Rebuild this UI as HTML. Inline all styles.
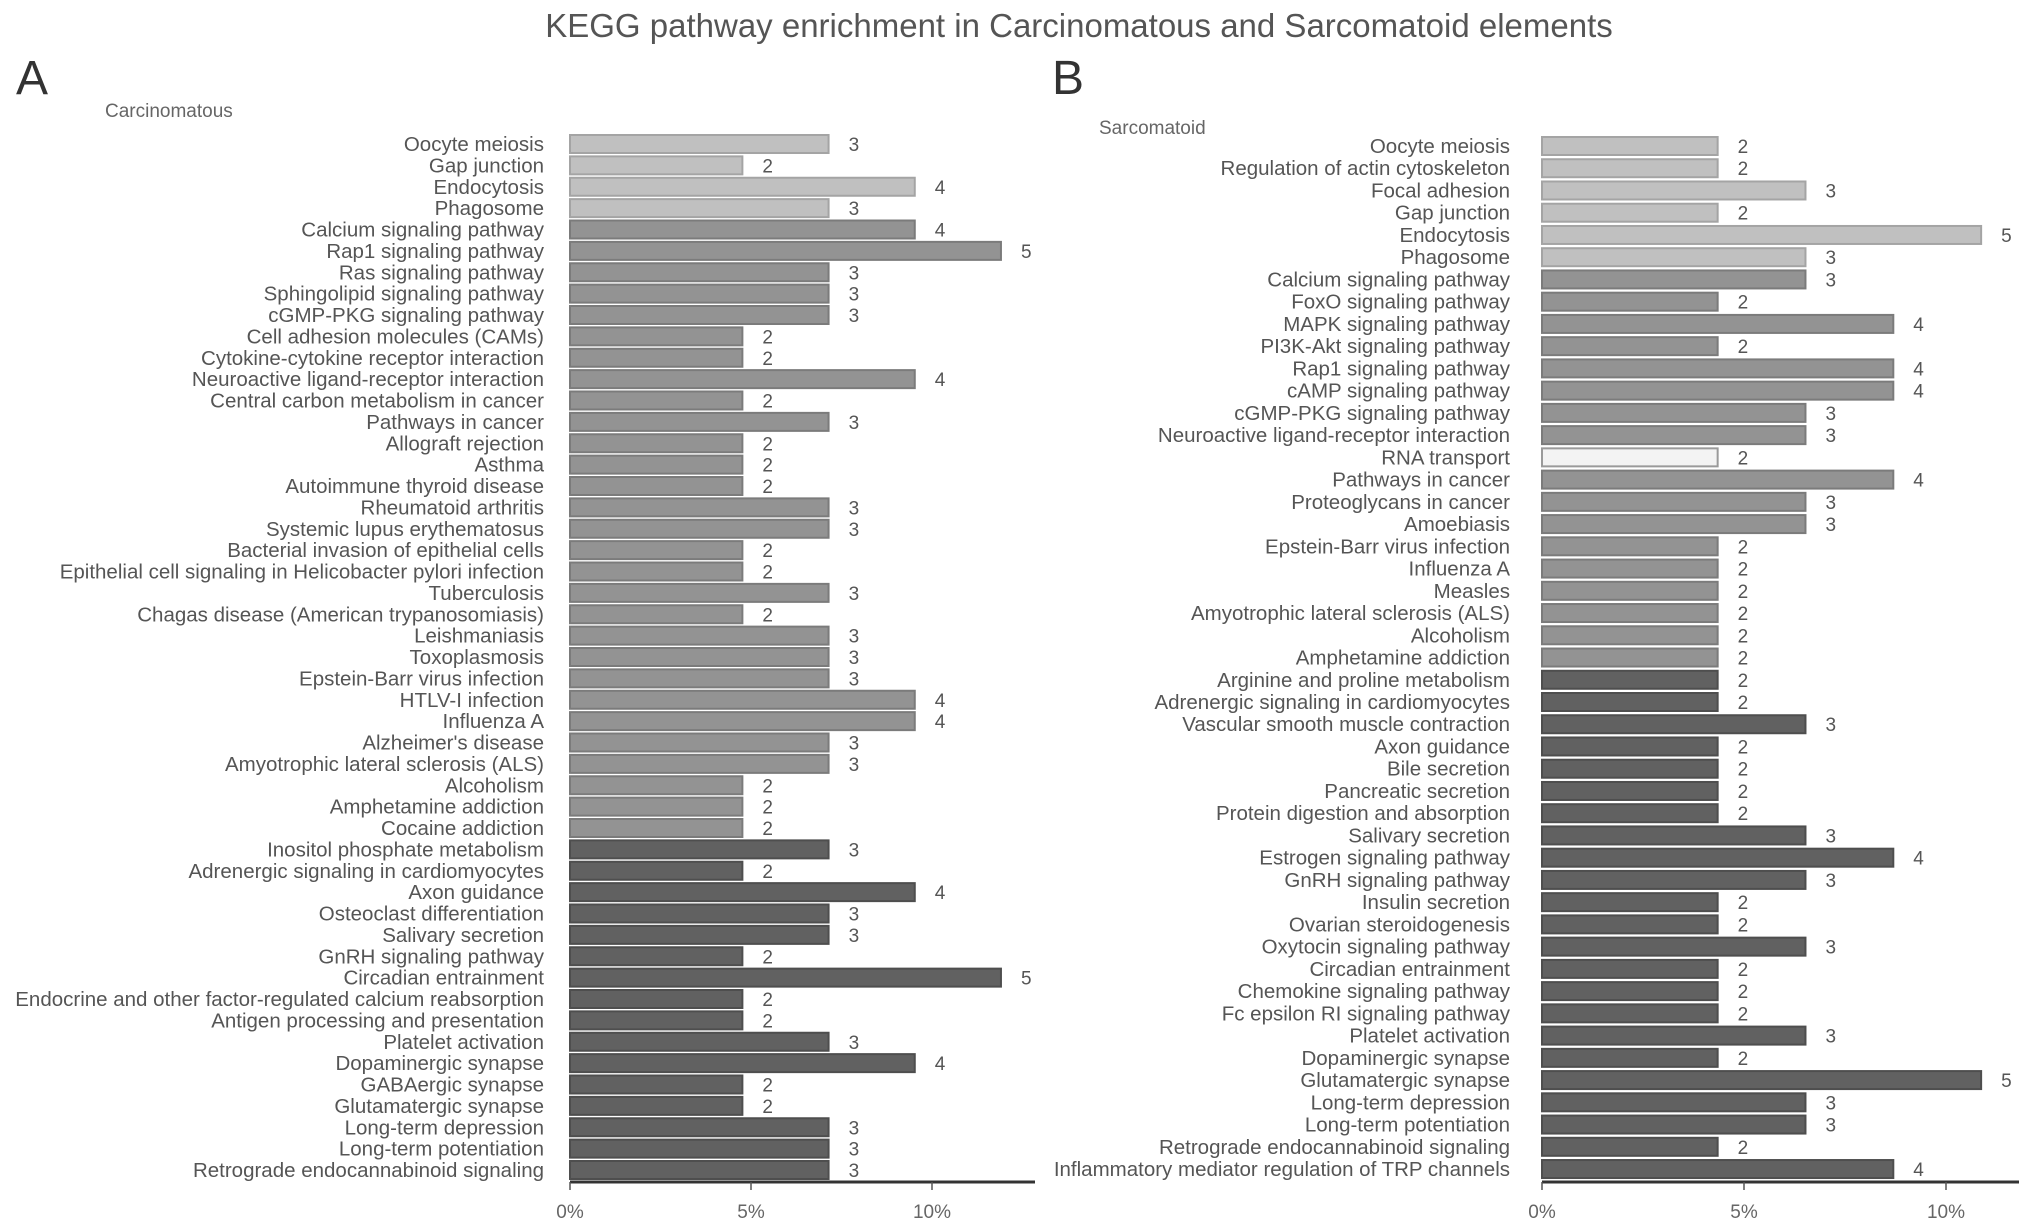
<!DOCTYPE html>
<html><head><meta charset="utf-8"><style>
html,body{margin:0;padding:0;background:#fff}
svg{display:block;font-family:"Liberation Sans",Arial,sans-serif}
</style></head><body>
<svg id="chart" width="2032" height="1229" viewBox="0 0 2032 1229">
<text x="1079" y="37" text-anchor="middle" font-size="33" fill="#555">KEGG pathway enrichment in Carcinomatous and Sarcomatoid elements</text>
<text x="16" y="94" font-size="48" fill="#333">A</text>
<text x="1052" y="94" font-size="48" fill="#333">B</text>
<text x="105" y="117" font-size="19" fill="#666">Carcinomatous</text>
<text x="1099" y="134" font-size="19" fill="#666">Sarcomatoid</text>
<g id="pa"></g>
<g id="pb"></g>
</svg>
<script>
const catsA = ["Oocyte meiosis","Gap junction","Endocytosis","Phagosome","Calcium signaling pathway","Rap1 signaling pathway","Ras signaling pathway","Sphingolipid signaling pathway","cGMP-PKG signaling pathway","Cell adhesion molecules (CAMs)","Cytokine-cytokine receptor interaction","Neuroactive ligand-receptor interaction","Central carbon metabolism in cancer","Pathways in cancer","Allograft rejection","Asthma","Autoimmune thyroid disease","Rheumatoid arthritis","Systemic lupus erythematosus","Bacterial invasion of epithelial cells","Epithelial cell signaling in Helicobacter pylori infection","Tuberculosis","Chagas disease (American trypanosomiasis)","Leishmaniasis","Toxoplasmosis","Epstein-Barr virus infection","HTLV-I infection","Influenza A","Alzheimer's disease","Amyotrophic lateral sclerosis (ALS)","Alcoholism","Amphetamine addiction","Cocaine addiction","Inositol phosphate metabolism","Adrenergic signaling in cardiomyocytes","Axon guidance","Osteoclast differentiation","Salivary secretion","GnRH signaling pathway","Circadian entrainment","Endocrine and other factor-regulated calcium reabsorption","Antigen processing and presentation","Platelet activation","Dopaminergic synapse","GABAergic synapse","Glutamatergic synapse","Long-term depression","Long-term potentiation","Retrograde endocannabinoid signaling"];
const countsA = [3,2,4,3,4,5,3,3,3,2,2,4,2,3,2,2,2,3,3,2,2,3,2,3,3,3,4,4,3,3,2,2,2,3,2,4,3,3,2,5,2,2,3,4,2,2,3,3,3];
const groupsA = [0,0,0,0,1,1,1,1,1,1,1,1,1,1,1,1,1,1,1,1,1,1,1,1,1,1,1,1,1,1,1,1,1,2,2,2,2,2,2,2,2,2,2,2,2,2,2,2,2];
const totalA = 42;
const catsB = ["Oocyte meiosis","Regulation of actin cytoskeleton","Focal adhesion","Gap junction","Endocytosis","Phagosome","Calcium signaling pathway","FoxO signaling pathway","MAPK signaling pathway","PI3K-Akt signaling pathway","Rap1 signaling pathway","cAMP signaling pathway","cGMP-PKG signaling pathway","Neuroactive ligand-receptor interaction","RNA transport","Pathways in cancer","Proteoglycans in cancer","Amoebiasis","Epstein-Barr virus infection","Influenza A","Measles","Amyotrophic lateral sclerosis (ALS)","Alcoholism","Amphetamine addiction","Arginine and proline metabolism","Adrenergic signaling in cardiomyocytes","Vascular smooth muscle contraction","Axon guidance","Bile secretion","Pancreatic secretion","Protein digestion and absorption","Salivary secretion","Estrogen signaling pathway","GnRH signaling pathway","Insulin secretion","Ovarian steroidogenesis","Oxytocin signaling pathway","Circadian entrainment","Chemokine signaling pathway","Fc epsilon RI signaling pathway","Platelet activation","Dopaminergic synapse","Glutamatergic synapse","Long-term depression","Long-term potentiation","Retrograde endocannabinoid signaling","Inflammatory mediator regulation of TRP channels"];
const countsB = [2,2,3,2,5,3,3,2,4,2,4,4,3,3,2,4,3,3,2,2,2,2,2,2,2,2,3,2,2,2,2,3,4,3,2,2,3,2,2,2,3,2,5,3,3,2,4];
const groupsB = [0,0,0,0,0,0,1,1,1,1,1,1,1,1,3,1,1,1,1,1,1,1,1,1,2,2,2,2,2,2,2,2,2,2,2,2,2,2,2,2,2,2,2,2,2,2,2];
const totalB = 46;
const ticks = [0,5,10];
const fills = ["#c0c0c0","#939393","#616161","#f3f3f3"];
const strokes = ["#a4a4a4","#7b7b7b","#4e4e4e","#9a9a9a"];
const NS = "http://www.w3.org/2000/svg";
function mk(tag, attrs, parent){const e=document.createElementNS(NS,tag);for(const k in attrs)e.setAttribute(k,attrs[k]);parent.appendChild(e);return e;}
function draw(g, cats, counts, groups, total, x0, pxPer5, y0, pitch, axisEnd, axisY, labelRight, px){
  const xs = v => x0 + v/5*pxPer5;
  const ys = i => y0 + i*pitch;
  cats.forEach((c,i)=>{
    const pct = counts[i]/total*100;
    const t = mk('text',{x:labelRight,y:ys(i)+7,'text-anchor':'end','font-size':20.5,fill:'#555'},g);
    t.textContent=c;
    
    
    const r = mk('rect',{x:x0,y:ys(i)-9,width:xs(pct)-x0,height:18,fill:fills[groups[i]],stroke:strokes[groups[i]],'stroke-width':2},g);
    
    
    const v = mk('text',{x:xs(pct)+20,y:ys(i)+7,'font-size':19,fill:'#555'},g);
    v.textContent=counts[i];
    
    
  });
  const ax = mk('line',{x1:x0,x2:axisEnd,y1:axisY,y2:axisY,stroke:'#333','stroke-width':3},g);
  
  
  ticks.forEach(tk=>{
    const l = mk('line',{x1:xs(tk),x2:xs(tk),y1:axisY,y2:axisY+8,stroke:'#555','stroke-width':1.5},g);
    
    
    const t = mk('text',{x:xs(tk),y:axisY+36,'text-anchor':'middle','font-size':19,fill:'#666'},g);
    t.textContent=tk+'%';
    
    
  });
}
draw(document.getElementById('pa'),catsA,countsA,groupsA,totalA,570,181,144,21.375,1035,1182,544,'panel-a');
draw(document.getElementById('pb'),catsB,countsB,groupsB,totalB,1542,202,146,22.24,2019,1182,1510,'panel-b');
</script>
</body></html>
